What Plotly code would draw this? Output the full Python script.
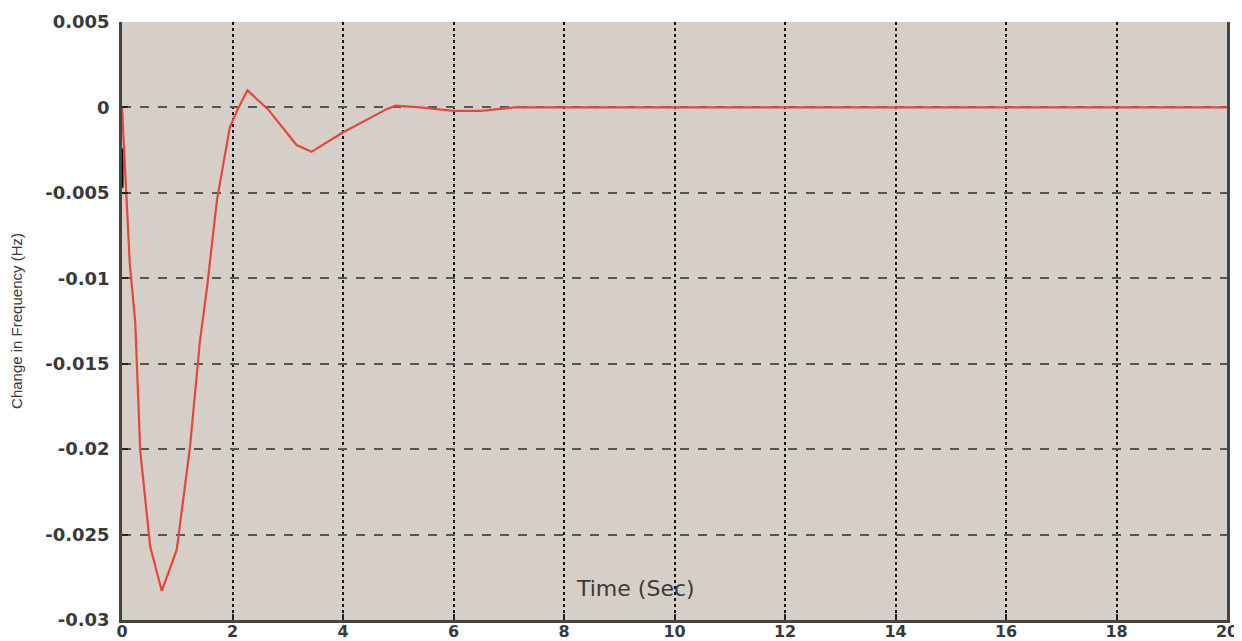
import plotly.graph_objects as go

# 頻率變化響應
time_s = [0, 0.14, 0.24, 0.33, 0.51, 0.72, 0.99, 1.23, 1.41, 1.54, 1.72, 1.86, 1.95,
          2.08, 2.27, 2.64, 3.16, 3.43, 3.98, 4.79, 4.95, 5.4, 6.0, 6.5, 7.1, 8, 20]
delta_f = [0, -0.0091, -0.0126, -0.0201, -0.0257, -0.0283, -0.0259, -0.0199, -0.0137,
           -0.0105, -0.0054, -0.0029, -0.0012, -0.0002, 0.0010, -0.0001, -0.0022,
           -0.0026, -0.0015, -0.0001, 0.0001, 0.0, -0.0002, -0.0002, 0, 0, 0]

# 起點附近的黑色短線
black_t = [0, 0]
black_f = [-0.0024, -0.0047]

x_ticks = [0, 2, 4, 6, 8, 10, 12, 14, 16, 18, 20]
y_ticks = [0.005, 0, -0.005, -0.01, -0.015, -0.02, -0.025, -0.03]
y_tick_text = ['0.005', '0', '-0.005', '-0.01', '-0.015', '-0.02', '-0.025', '-0.03']

BG = '#d5cfc8'
TEXT = '#3a3a3a'

fig = go.Figure()
fig.add_trace(go.Scatter(x=black_t, y=black_f, mode='lines',
                         line=dict(color='black', width=3), showlegend=False))
fig.add_trace(go.Scatter(x=time_s, y=delta_f, mode='lines',
                         line=dict(color='#e5473a', width=2.2), showlegend=False))

fig.add_annotation(text='Time (Sec)', x=9.3, xref='x', y=0.028, yref='paper',
                   showarrow=False, font=dict(family='DejaVu Sans', size=22, color=TEXT))

# 頁面本身有 8px 邊距, 所以畫布稍微縮小
fig.update_layout(
    width=1234, height=633,
    margin=dict(l=114, r=15, t=14, b=21),
    plot_bgcolor=BG, paper_bgcolor='white',
    font=dict(family='DejaVu Sans', color=TEXT),
    xaxis=dict(range=[0, 20], tickvals=x_ticks, ticks='inside', ticklen=6, tickwidth=2,
               tickcolor='#222', showline=True, linecolor='#444', linewidth=2.5,
               showgrid=True, gridcolor='#111', griddash='dot', gridwidth=2,
               zeroline=False, automargin=False, ticklabelstandoff=-5,
               tickfont=dict(size=16, color=TEXT, weight='bold')),
    yaxis=dict(range=[-0.03, 0.005], tickvals=y_ticks, ticktext=y_tick_text,
               ticks='inside', ticklen=6, tickwidth=2, tickcolor='#222',
               showline=True, mirror=True, linecolor='#444', linewidth=2.5,
               showgrid=True, gridcolor='#555', griddash='dash', gridwidth=1.5,
               zeroline=False, automargin=False, ticklabelstandoff=6,
               tickfont=dict(size=18, color=TEXT, weight='bold'),
               title=dict(text='Change in Frequency (Hz)', standoff=20,
                          font=dict(family='Liberation Sans', size=15, color=TEXT))),
)

fig.write_html("out.html")
